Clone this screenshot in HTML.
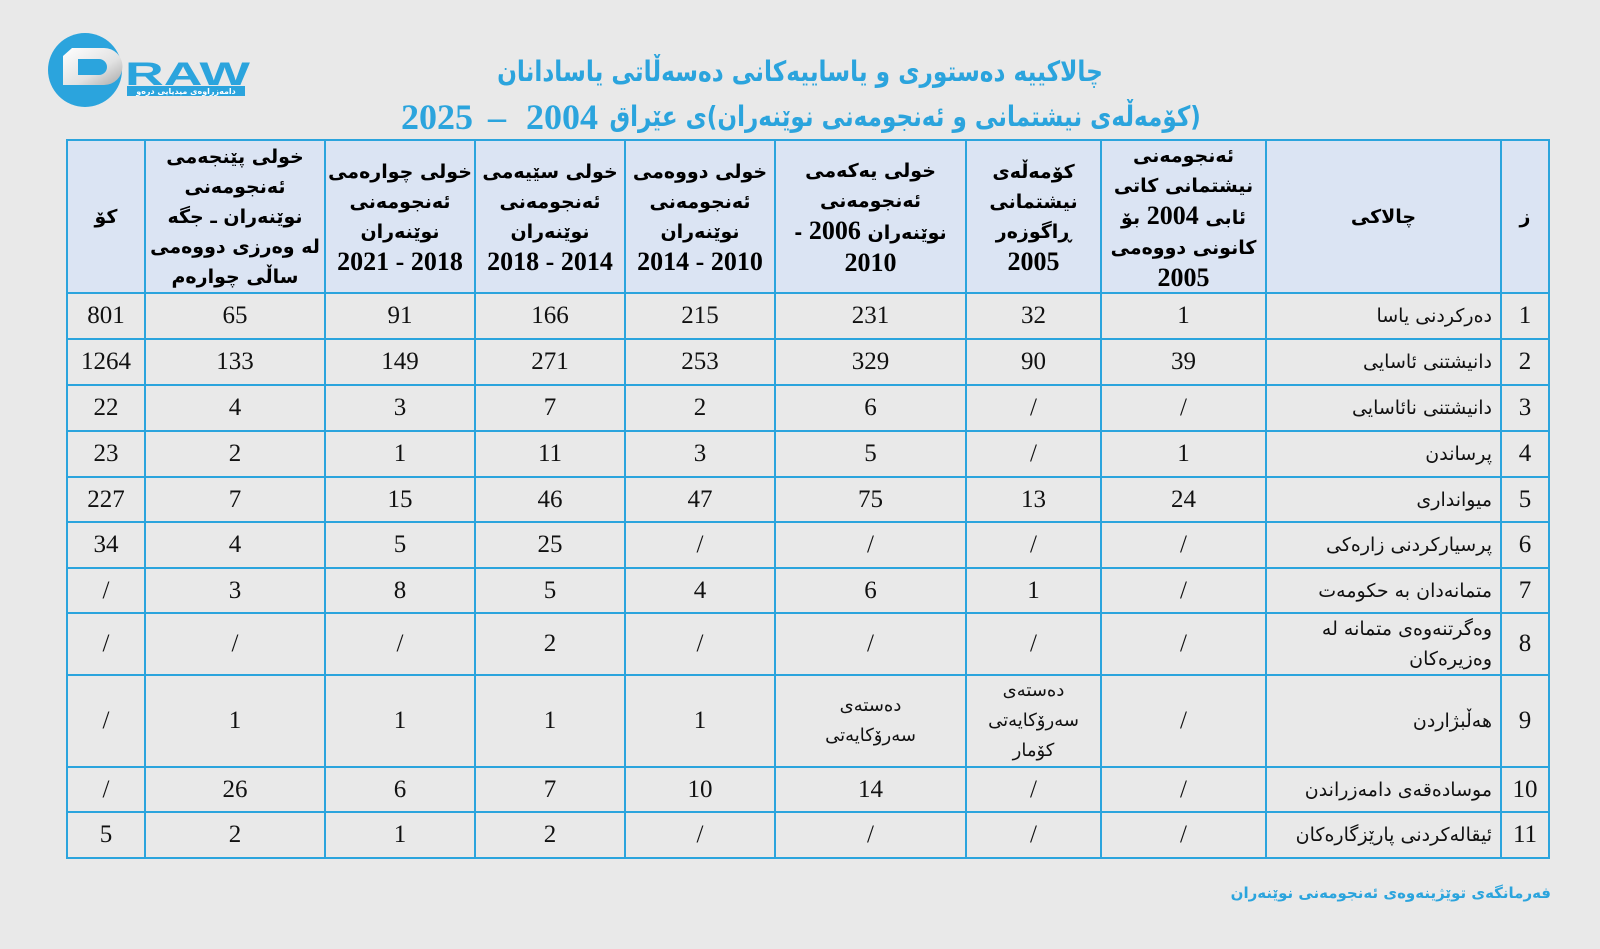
<!DOCTYPE html>
<html>
<head>
<meta charset="utf-8">
<style>
html,body{margin:0;padding:0;}
body{width:1600px;height:949px;background:#e9e9e9;position:relative;overflow:hidden;font-family:"Liberation Serif","DejaVu Sans",sans-serif;}
.t1{position:absolute;left:300px;width:1000px;top:54px;line-height:36px;text-align:center;color:#2ba4dd;font-weight:bold;direction:rtl;font-family:"DejaVu Sans",sans-serif;font-size:28px;white-space:nowrap;transform:scaleX(0.83);transform-origin:50% 50%;}
.tar{position:absolute;top:98px;line-height:38px;color:#2ba4dd;font-weight:bold;direction:rtl;font-family:"DejaVu Sans",sans-serif;font-size:28px;white-space:nowrap;transform:scaleX(0.825);transform-origin:100% 50%;}
.tnum{position:absolute;top:97px;line-height:40px;color:#2ba4dd;font-weight:bold;font-family:"Liberation Serif",serif;font-size:36px;white-space:nowrap;}
.tbl{position:absolute;left:66px;top:139px;display:grid;direction:rtl;
grid-template-columns:46px 233px 163px 133px 189px 148px 148px 148px 178px 76px;
grid-template-rows:151px 44px 44px 44px 44px 43px 44px 43px 60px 90px 43px 44px;
gap:2px;padding:2px;background:#2ba4dd;}
.tbl>div{background:#e9e9e9;display:flex;flex-direction:column;align-items:center;justify-content:center;text-align:center;color:#111;}
.tbl>div.h{background:#dbe4f3;font-family:"DejaVu Sans",sans-serif;font-weight:bold;font-size:19px;line-height:30px;white-space:nowrap;color:#000;}
.h .d{font-family:"Liberation Serif",serif;font-size:26px;font-weight:bold;}
.tbl>div.n{font-family:"Liberation Serif",serif;font-size:25px;}
.tbl>div.a{font-family:"DejaVu Sans",sans-serif;font-size:19px;align-items:flex-start;padding-right:8px;line-height:30px;white-space:nowrap;}
.tbl>div.c{font-family:"DejaVu Sans",sans-serif;font-size:18px;line-height:30px;white-space:nowrap;}
.foot{position:absolute;right:49px;top:884px;color:#2ba4dd;font-weight:bold;font-family:"DejaVu Sans",sans-serif;font-size:15px;direction:rtl;white-space:nowrap;}
</style>
</head>
<body>

<svg style="position:absolute;left:0;top:0" width="270" height="130" viewBox="0 0 270 130">
<defs>
<linearGradient id="g" x1="0" y1="0" x2="1" y2="1">
<stop offset="0" stop-color="#ffffff"/><stop offset="0.6" stop-color="#e2e2e2"/><stop offset="1" stop-color="#a9a9a9"/>
</linearGradient>
</defs>
<circle cx="85" cy="70" r="37" fill="#2ba4dd"/>
<path fill-rule="evenodd" fill="url(#g)" d="M63,56 L72,48 L104,48 A18.5,18.5 0 0 1 104,85 L63,85 Z M78,59 L99,59 A8,8 0 0 1 99,75 L78,75 Z"/>
<text x="125" y="85" font-family="Liberation Sans, sans-serif" font-weight="bold" font-size="32" fill="#2ba4dd" textLength="125" lengthAdjust="spacingAndGlyphs">RAW</text>
<rect x="127" y="86" width="118" height="10" fill="#2ba4dd"/>
<text x="186" y="94" text-anchor="middle" font-family="DejaVu Sans, sans-serif" font-size="8" font-weight="bold" fill="#ffffff">دامەزراوەی میدیایی درەو</text>
</svg>

<div class="t1">چالاکییە دەستوری و یاساییەکانی دەسەڵاتی یاسادانان</div>
<div class="tnum" style="left:401px;">2025</div>
<div class="tnum" style="left:488px;">–</div>
<div class="tnum" style="left:526px;">2004</div>
<div class="tar" style="right:399px;">(کۆمەڵەی نیشتمانی و ئەنجومەنی نوێنەران)ی عێراق</div>

<div class="tbl">
<!-- header -->
<div class="h">ز</div>
<div class="h">چالاکی</div>
<div class="h"><span>ئەنجومەنی</span><span>نیشتمانی کاتی</span><span>ئابی <span class="d">2004</span> بۆ</span><span>کانونی دووەمی</span><span class="d">2005</span></div>
<div class="h"><span>کۆمەڵەی</span><span>نیشتمانی</span><span>ڕاگوزەر</span><span class="d">2005</span></div>
<div class="h"><span>خولی یەکەمی</span><span>ئەنجومەنی</span><span>نوێنەران <span class="d">2006</span> -</span><span class="d">2010</span></div>
<div class="h"><span>خولی دووەمی</span><span>ئەنجومەنی</span><span>نوێنەران</span><span class="d">2010 - 2014</span></div>
<div class="h"><span>خولی سێیەمی</span><span>ئەنجومەنی</span><span>نوێنەران</span><span class="d">2014 - 2018</span></div>
<div class="h"><span>خولی چوارەمی</span><span>ئەنجومەنی</span><span>نوێنەران</span><span class="d">2018 - 2021</span></div>
<div class="h"><span>خولی پێنجەمی</span><span>ئەنجومەنی</span><span>نوێنەران ـ جگە</span><span>لە وەرزی دووەمی</span><span>ساڵی چوارەم</span></div>
<div class="h">کۆ</div>

<!-- row 1 -->
<div class="n">1</div><div class="a">دەرکردنی یاسا</div>
<div class="n">1</div><div class="n">32</div><div class="n">231</div><div class="n">215</div><div class="n">166</div><div class="n">91</div><div class="n">65</div><div class="n">801</div>
<!-- row 2 -->
<div class="n">2</div><div class="a">دانیشتنی ئاسایی</div>
<div class="n">39</div><div class="n">90</div><div class="n">329</div><div class="n">253</div><div class="n">271</div><div class="n">149</div><div class="n">133</div><div class="n">1264</div>
<!-- row 3 -->
<div class="n">3</div><div class="a">دانیشتنی نائاسایی</div>
<div class="n">/</div><div class="n">/</div><div class="n">6</div><div class="n">2</div><div class="n">7</div><div class="n">3</div><div class="n">4</div><div class="n">22</div>
<!-- row 4 -->
<div class="n">4</div><div class="a">پرساندن</div>
<div class="n">1</div><div class="n">/</div><div class="n">5</div><div class="n">3</div><div class="n">11</div><div class="n">1</div><div class="n">2</div><div class="n">23</div>
<!-- row 5 -->
<div class="n">5</div><div class="a">میوانداری</div>
<div class="n">24</div><div class="n">13</div><div class="n">75</div><div class="n">47</div><div class="n">46</div><div class="n">15</div><div class="n">7</div><div class="n">227</div>
<!-- row 6 -->
<div class="n">6</div><div class="a">پرسیارکردنی زارەکی</div>
<div class="n">/</div><div class="n">/</div><div class="n">/</div><div class="n">/</div><div class="n">25</div><div class="n">5</div><div class="n">4</div><div class="n">34</div>
<!-- row 7 -->
<div class="n">7</div><div class="a">متمانەدان بە حکومەت</div>
<div class="n">/</div><div class="n">1</div><div class="n">6</div><div class="n">4</div><div class="n">5</div><div class="n">8</div><div class="n">3</div><div class="n">/</div>
<!-- row 8 -->
<div class="n">8</div><div class="a"><span>وەگرتنەوەی متمانە لە</span><span>وەزیرەکان</span></div>
<div class="n">/</div><div class="n">/</div><div class="n">/</div><div class="n">/</div><div class="n">2</div><div class="n">/</div><div class="n">/</div><div class="n">/</div>
<!-- row 9 -->
<div class="n">9</div><div class="a">هەڵبژاردن</div>
<div class="n">/</div><div class="c"><span>دەستەی</span><span>سەرۆکایەتی</span><span>کۆمار</span></div><div class="c"><span>دەستەی</span><span>سەرۆکایەتی</span></div><div class="n">1</div><div class="n">1</div><div class="n">1</div><div class="n">1</div><div class="n">/</div>
<!-- row 10 -->
<div class="n">10</div><div class="a">موسادەقەی دامەزراندن</div>
<div class="n">/</div><div class="n">/</div><div class="n">14</div><div class="n">10</div><div class="n">7</div><div class="n">6</div><div class="n">26</div><div class="n">/</div>
<!-- row 11 -->
<div class="n">11</div><div class="a">ئیقالەکردنی پارێزگارەکان</div>
<div class="n">/</div><div class="n">/</div><div class="n">/</div><div class="n">/</div><div class="n">2</div><div class="n">1</div><div class="n">2</div><div class="n">5</div>
</div>

<div class="foot">فەرمانگەی توێژینەوەی ئەنجومەنی نوێنەران</div>
</body>
</html>
